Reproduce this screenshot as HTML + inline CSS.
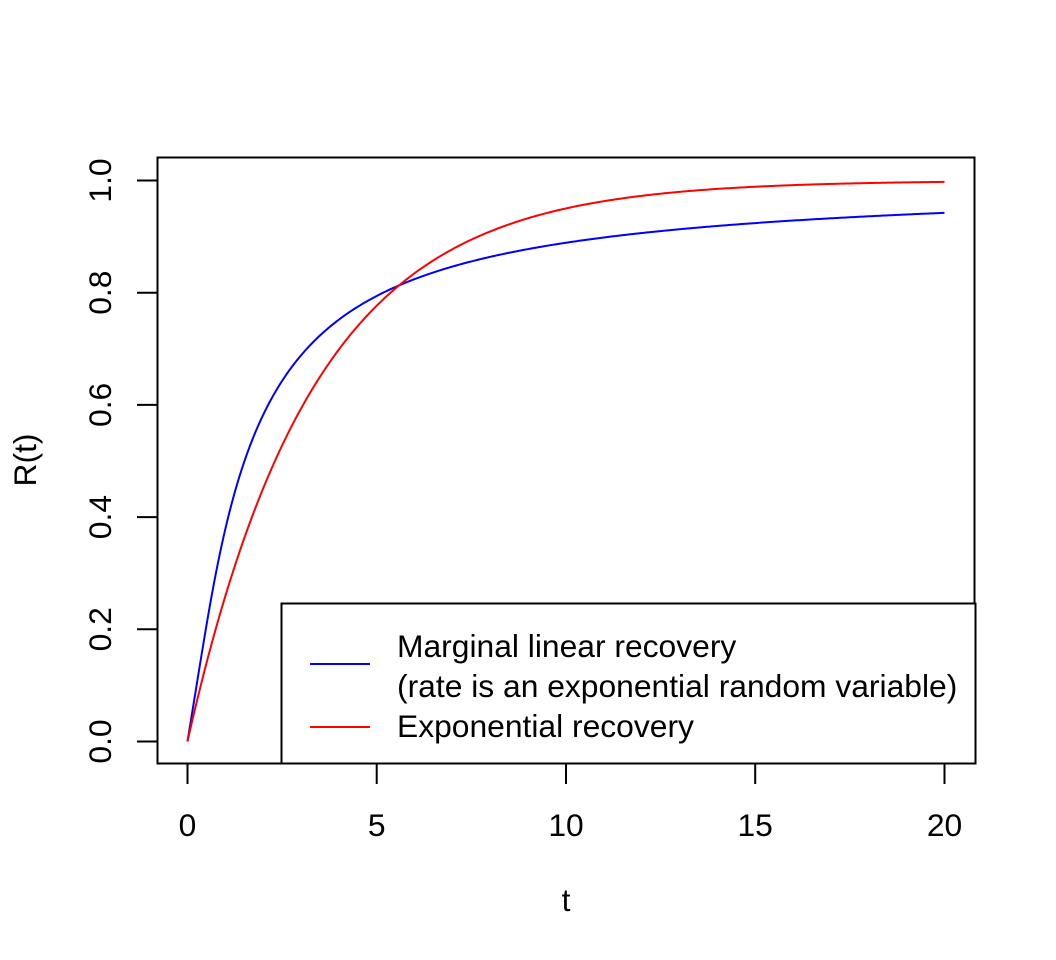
<!DOCTYPE html>
<html><head><meta charset="utf-8"><style>
body{margin:0;background:#fff}
svg{display:block}
text{font-family:"Liberation Sans",sans-serif;font-size:31.8px;fill:#000}
</style></head><body>
<svg id="s" width="1056" height="960" xmlns="http://www.w3.org/2000/svg">
<rect x="157.5" y="157.5" width="817" height="606" fill="none" stroke="#000" stroke-width="2"/>
<g stroke="#000" stroke-width="2">
<line x1="187.5" y1="764" x2="187.5" y2="784"/>
<line x1="376.7" y1="764" x2="376.7" y2="784"/>
<line x1="566" y1="764" x2="566" y2="784"/>
<line x1="755.2" y1="764" x2="755.2" y2="784"/>
<line x1="944.5" y1="764" x2="944.5" y2="784"/>
<line x1="157" y1="741.5" x2="137" y2="741.5"/>
<line x1="157" y1="629.3" x2="137" y2="629.3"/>
<line x1="157" y1="517.1" x2="137" y2="517.1"/>
<line x1="157" y1="404.9" x2="137" y2="404.9"/>
<line x1="157" y1="292.7" x2="137" y2="292.7"/>
<line x1="157" y1="180.5" x2="137" y2="180.5"/>
</g>
<g text-anchor="middle">
<text x="187.5" y="836">0</text>
<text x="376.7" y="836">5</text>
<text x="566" y="836">10</text>
<text x="755.2" y="836">15</text>
<text x="944.5" y="836">20</text>
<text x="566" y="911">t</text>
<text transform="translate(111,741.5) rotate(-90)">0.0</text>
<text transform="translate(111,629.3) rotate(-90)">0.2</text>
<text transform="translate(111,517.1) rotate(-90)">0.4</text>
<text transform="translate(111,404.9) rotate(-90)">0.6</text>
<text transform="translate(111,292.7) rotate(-90)">0.8</text>
<text transform="translate(111,180.5) rotate(-90)">1.0</text>
<text transform="translate(36,460) rotate(-90)">R(t)</text>
</g>
<path id="b" fill="none" stroke="#0000ff" stroke-width="2"/>
<path id="r" fill="none" stroke="#ff0000" stroke-width="2"/>
<rect x="281.5" y="603.5" width="694" height="160" fill="#fff" stroke="#000" stroke-width="2"/>
<line x1="310" y1="664" x2="370" y2="664" stroke="#0000ff" stroke-width="2"/>
<line x1="310" y1="727" x2="370" y2="727" stroke="#ff0000" stroke-width="2"/>
<text x="397" y="657">Marginal linear recovery</text>
<text x="397" y="697">(rate is an exponential random variable)</text>
<text x="397" y="737">Exponential recovery</text>
</svg>
<script>
function X(t){return 187.5+t*37.85}function Y(v){return 741.5-v*561}
var th=2.4,b="",r="";
for(var i=0;i<=400;i++){var t=i*0.05;
var bv=t==0?0:(t/th)*(1-Math.exp(-th/t));
b+=(i?"L":"M")+X(t).toFixed(2)+","+Y(bv).toFixed(2);
r+=(i?"L":"M")+X(t).toFixed(2)+","+Y(1-Math.exp(-0.3*t)).toFixed(2);}
document.getElementById("b").setAttribute("d",b);
document.getElementById("r").setAttribute("d",r);
</script>
</body></html>
